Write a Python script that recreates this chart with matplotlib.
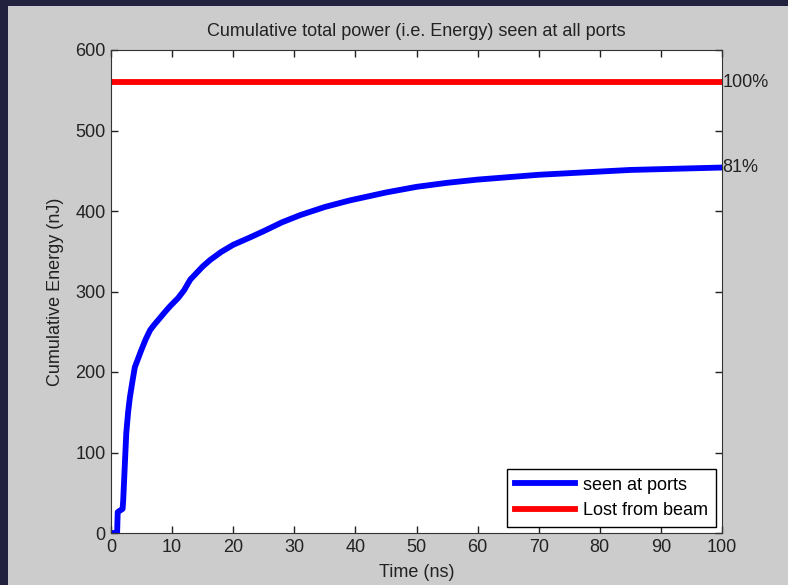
import matplotlib.pyplot as plt
from matplotlib.patches import Rectangle

plt.rcParams['font.family'] = ['Liberation Sans', 'DejaVu Sans']

# Cumulative energy seen at ports (nJ) vs time (ns)
time_ns = [0, 1.0, 1.1, 1.9, 2.0, 2.3, 2.5, 2.8, 3.1, 3.5, 3.9, 4.5, 5, 5.7, 6.4, 7, 8, 9,
           9.7, 11, 12, 12.6, 13, 14, 15, 16.2, 18, 20, 22.7, 25, 28, 31, 35, 39,
           42, 45, 50, 55, 60, 65, 70, 75, 80, 85, 90, 95, 100]
energy = [0, 0, 26, 30, 41, 91, 124, 150, 169, 188, 206, 218, 228, 241, 252, 258, 267, 276,
          282, 292, 302, 310, 315, 323, 331, 339, 349, 358, 367, 375, 386, 395, 405, 413,
          418, 423, 430, 435, 439, 442, 445, 447, 449, 451, 452, 453, 454]

lost_from_beam = 560
pct_labels = ['100%', '81%']

fig = plt.figure(figsize=(7.88, 5.85), dpi=100, facecolor='#22223f')
# grey figure window inside the dark desktop border
fig.patches.append(Rectangle((8 / 788, 0), 1, 1 - 6 / 585, transform=fig.transFigure,
                             facecolor='#cccccc', edgecolor='none', zorder=-1))

ax = fig.add_axes([111 / 788, 1 - 533 / 585, 611 / 788, 483 / 585])
ax.plot(time_ns, energy, color='#0000ff', lw=4.2, label='seen at ports')
ax.plot([0, 100], [lost_from_beam, lost_from_beam], color='#ff0000', lw=4.2,
        label='Lost from beam')

ax.set_xlim(0, 100)
ax.set_ylim(0, 600)
ax.set_xticks(range(0, 101, 10))
ax.set_yticks(range(0, 601, 100))
ax.tick_params(direction='in', top=True, right=True, length=5, width=1,
               labelsize=13, colors='#222222', pad=4)
for s in ax.spines.values():
    s.set_color('#333333')

ax.text(100.1, lost_from_beam, pct_labels[0], ha='left', va='center', fontsize=13,
        color='#222222', clip_on=False)
ax.text(100.1, energy[-1], pct_labels[1], ha='left', va='center', fontsize=13,
        color='#222222', clip_on=False)

ax.set_title('Cumulative total power (i.e. Energy) seen at all ports', fontsize=13,
             color='#222222', pad=10)
ax.set_xlabel('Time (ns)', fontsize=13, color='#222222', labelpad=6)
ax.set_ylabel('Cumulative Energy (nJ)', fontsize=13, color='#222222', labelpad=8)

leg = ax.legend(loc='lower right', fancybox=False, framealpha=1, edgecolor='black',
                fontsize=13, handlelength=3.3, handletextpad=0.45, borderaxespad=0.33,
                borderpad=0.45, labelspacing=0.45)
leg.get_frame().set_linewidth(1)

fig.savefig('out.png', dpi=100, facecolor=fig.get_facecolor())
